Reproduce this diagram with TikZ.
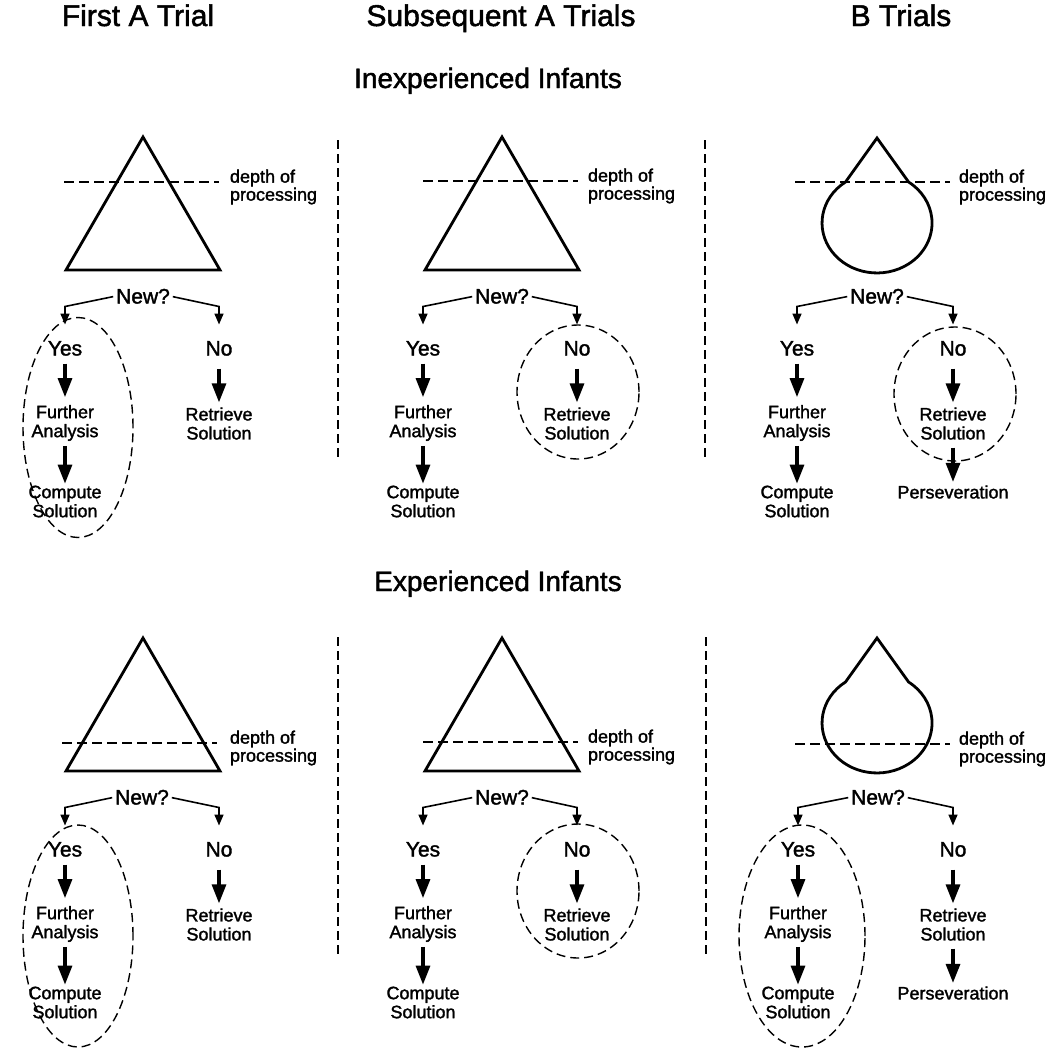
\documentclass[tikz,border=0pt]{standalone}
\usepackage{fontspec}
\setmainfont{Liberation Sans}[BoldFont=Liberation Sans, BoldFeatures={FakeBold=1.6}]
\usetikzlibrary{arrows.meta}
\tikzset{
  every node/.style={inner sep=0pt, outer sep=0pt},
  title/.style={font=\bfseries\fontsize{30}{32}\selectfont, anchor=base},
  group/.style={font=\bfseries\fontsize{28}{30}\selectfont, anchor=base},
  bigtxt/.style={font=\bfseries\fontsize{21}{22}\selectfont, text height=15pt, text depth=0pt},
  smalltxt/.style={font=\bfseries\fontsize{18}{19}\selectfont, align=center},
  depthtxt/.style={font=\bfseries\fontsize{18}{18}\selectfont, align=left, anchor=west},
  shapeline/.style={line width=2.8pt, line join=miter},
  depthline/.style={line width=1.3pt, dash pattern=on 10pt off 5pt},
  sepline/.style={line width=1.4pt, dash pattern=on 9pt off 5pt},
  groupring/.style={line width=1.4pt, dash pattern=on 9pt off 5pt},
  branch/.style={line width=1.6pt, -{Triangle[width=9pt,length=11pt]}, shorten <=3pt, shorten >=16pt},
  flow/.style={line width=3.2pt, -{Triangle[width=14pt,length=19pt]}, shorten <=8pt, shorten >=5pt},
}
% #1 prefix, #2 x of New?, #3 x of Yes, #4 x of No, #5 vertical offset
\newcommand{\drawpanel}[5]{%
  \begin{scope}[shift={(0,#5)}]
    \node[bigtxt] (#1-new) at (#2,296) {New?};
    \coordinate (#1-cl) at (#3,306.5);
    \coordinate (#1-cr) at (#4,306.5);
    \node[bigtxt] (#1-yes) at (#3,348) {Yes};
    \node[bigtxt] (#1-no) at (#4,348) {No};
    \node[smalltxt] (#1-fa) at (#3,423) {Further\\Analysis};
    \node[smalltxt] (#1-cs) at (#3,501.5) {Compute\\Solution};
    \node[smalltxt] (#1-rs) at (#4,423.5) {Retrieve\\Solution};
    \draw[branch] (#1-new.west) -- (#1-cl) -- (#1-yes.north);
    \draw[branch] (#1-new.east) -- (#1-cr) -- (#1-no.north);
    \draw[flow, shorten >=8pt] (#1-yes.south) -- (#1-fa.north);
    \draw[flow, shorten <=5pt, shorten >=2pt] (#1-fa.south) -- (#1-cs.north);
    \draw[flow, shorten <=13pt] (#1-no.south) -- (#1-rs.north);
  \end{scope}}
\begin{document}
\begin{tikzpicture}[x=1pt, y=-1pt]
\useasboundingbox (0,0) rectangle (1050,1050);
\fill[white] (0,0) rectangle (1050,1050);

% headings
\node[title] (t1) at (138,26) {First A Trial};
\node[title] (t2) at (501,26) {Subsequent A Trials};
\node[title] (t3) at (901,26) {B Trials};
\node[group] (g1) at (488,88) {Inexperienced Infants};
\node[group] (g2) at (498,591) {Experienced Infants};

% column separators
\draw[sepline] (338,140) -- (338,460);
\draw[sepline] (705,140) -- (705,460);
\draw[sepline] (338,637) -- (338,957);
\draw[sepline] (706,637) -- (706,957);

% ---------- top row shapes ----------
\draw[shapeline] (143,137) -- (220,270) -- (66,270) -- cycle;
\draw[shapeline] (502,137) -- (579,270) -- (425,270) -- cycle;
\draw[shapeline] (877,138) -- (845.5,182)
  arc[start angle=125, end angle=415, x radius=55pt, y radius=50pt] -- cycle;

\draw[depthline] (64,182) -- (219,182);
\draw[depthline] (423,181) -- (578,181);
\draw[depthline] (795,182) -- (950,182);
\node[depthtxt] (d1) at (230,187) {depth of\\processing};
\node[depthtxt] (d2) at (588,186) {depth of\\processing};
\node[depthtxt] (d3) at (959,187) {depth of\\processing};

% ---------- bottom row shapes ----------
\draw[shapeline] (143,638) -- (220,771) -- (66,771) -- cycle;
\draw[shapeline] (502,638) -- (579,771) -- (425,771) -- cycle;
\draw[shapeline] (877,638) -- (845.5,682)
  arc[start angle=125, end angle=415, x radius=55pt, y radius=50pt] -- cycle;

\draw[depthline] (62,743) -- (217,743);
\draw[depthline] (423,742) -- (578,742);
\draw[depthline] (795,744) -- (950,744);
\node[depthtxt] (d4) at (230,748) {depth of\\processing};
\node[depthtxt] (d5) at (588,747) {depth of\\processing};
\node[depthtxt] (d6) at (959,749) {depth of\\processing};

% ---------- decision panels ----------
\drawpanel{tl}{143}{65}{219}{0}
\drawpanel{tm}{502}{423}{577}{0}
\drawpanel{tr}{877}{797}{953}{0}
\drawpanel{bl}{142}{65}{219}{501}
\drawpanel{bm}{502}{423}{577}{501}
\drawpanel{br}{878}{798}{953}{501}

% perseveration (B trials)
\node[smalltxt] (tr-pers) at (953,492) {Perseveration};
\draw[flow, shorten >=3.5pt] (tr-rs.south) -- (tr-pers.north);
\node[smalltxt] (br-pers) at (953,993) {Perseveration};
\draw[flow, shorten >=3.5pt] (br-rs.south) -- (br-pers.north);

% dashed groupings
\draw[groupring] (78,427.5) ellipse [x radius=55pt, y radius=110pt];
\draw[groupring] (578,392) ellipse [x radius=61pt, y radius=67pt];
\draw[groupring] (955,394) ellipse [x radius=61pt, y radius=67pt];
\draw[groupring] (78,936) ellipse [x radius=55pt, y radius=111pt];
\draw[groupring] (578,891) ellipse [x radius=61pt, y radius=67pt];
\draw[groupring] (802,936) ellipse [x radius=63pt, y radius=111pt];
\end{tikzpicture}
\end{document}
